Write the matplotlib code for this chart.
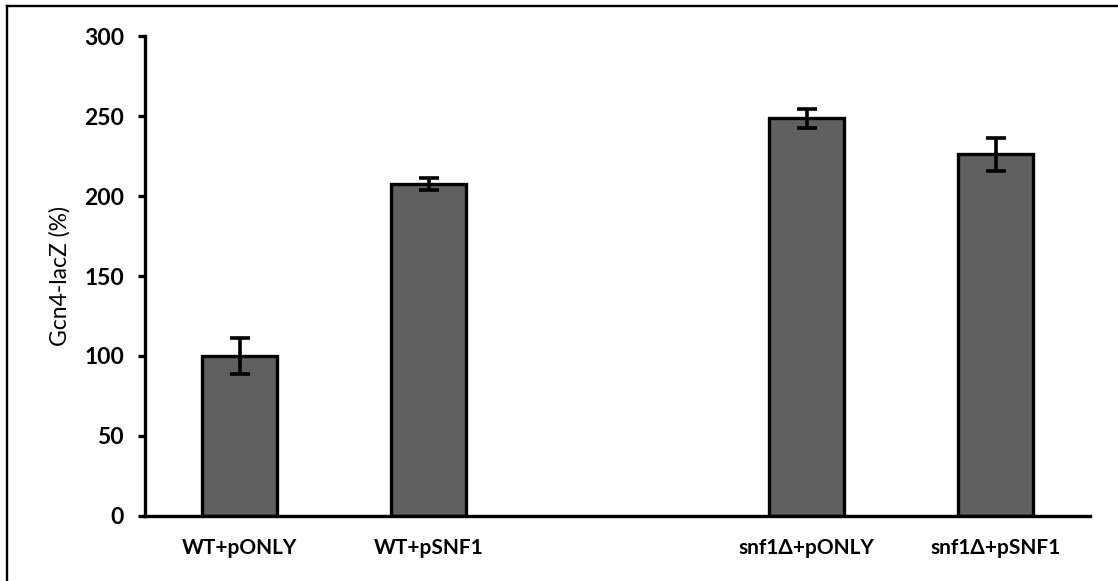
import numpy as np
import matplotlib.pyplot as plt
from matplotlib.lines import Line2D

# Gcn4-lacZ activity, % of WT+pONLY
labels = ['WT+pONLY', 'WT+pSNF1', '', 'snf1Δ+pONLY', 'snf1Δ+pSNF1']
values = [100, 207.5, np.nan, 248.5, 226]
errors = [11.5, 3.5, np.nan, 6, 10.5]

plt.rcParams['font.family'] = ['Lato', 'DejaVu Sans']

fig = plt.figure(figsize=(11.18, 5.81), dpi=100)
ax = fig.add_axes([0.1297, 0.1119, 0.975 - 0.1297, 0.938 - 0.1119])

x = np.arange(len(labels))
ax.bar(x, values, width=0.40, color='#606060', edgecolor='black', linewidth=2.4,
       yerr=errors, error_kw=dict(ecolor='black', elinewidth=2.6, capsize=7.5, capthick=2.6))

ax.set_xlim(-0.5, len(labels) - 0.5)
ax.set_ylim(0, 300)
ax.set_yticks(np.arange(0, 301, 50))
ax.set_xticks(x)
ax.set_xticklabels(labels, fontsize=15, fontweight='bold')
for t in ax.get_yticklabels():
    t.set_fontsize(16.5)
    t.set_fontweight('bold')
ax.set_ylabel('Gcn4-lacZ (%)', fontsize=16.5, labelpad=10)

ax.spines['top'].set_visible(False)
ax.spines['right'].set_visible(False)
ax.spines['left'].set_linewidth(2.4)
ax.spines['bottom'].set_linewidth(2.4)
ax.tick_params(axis='y', length=5, width=2.4, pad=10)
ax.tick_params(axis='x', length=0, pad=16)

# outer frame: only top and left edges are visible in the original
fig.add_artist(Line2D([0.0063, 1.0], [0.9897, 0.9897], transform=fig.transFigure,
                      color='black', linewidth=1.7))
fig.add_artist(Line2D([0.0063, 0.0063], [0.0, 0.9897], transform=fig.transFigure,
                      color='black', linewidth=1.7))

fig.savefig('out.png', dpi=100)
